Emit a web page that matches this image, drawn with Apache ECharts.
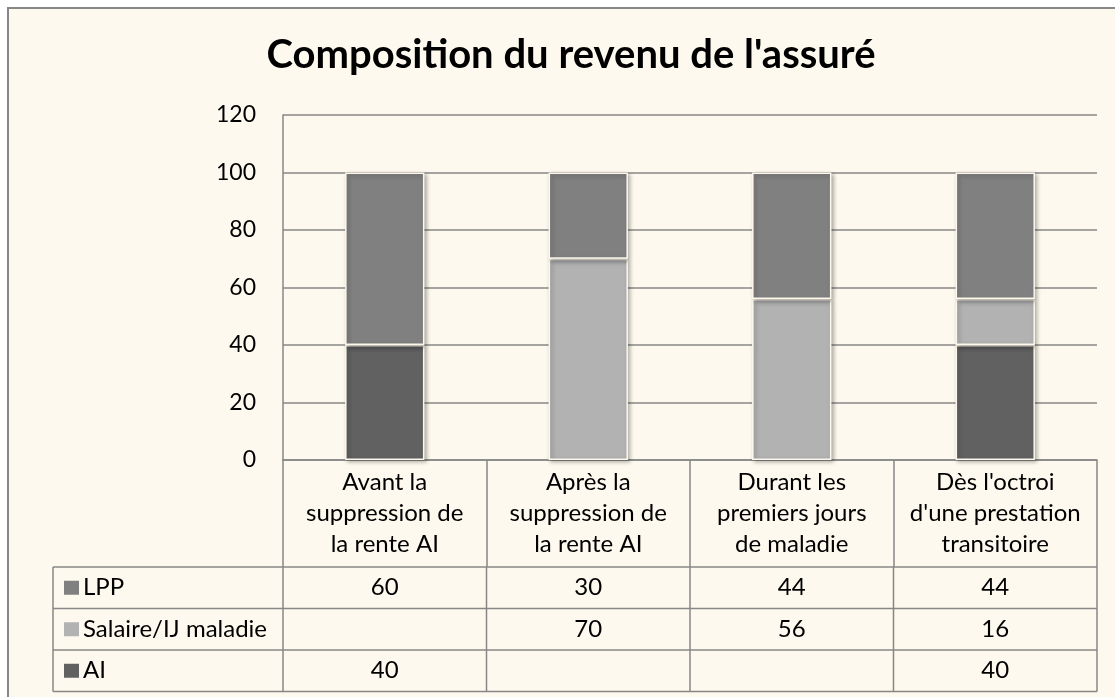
<!DOCTYPE html>
<html>
<head>
<meta charset="utf-8">
<script src="https://cdn.jsdelivr.net/npm/echarts@6/dist/echarts.min.js"></script>
<style>
  html, body { margin: 0; padding: 0; background: #fff; }
  #main { width: 1115px; height: 697px; }
</style>
</head>
<body>
<div id="main"></div>
<script>
// données du graphique
const categories = [
    'Avant la\nsuppression de\nla rente AI',
    'Après la\nsuppression de\nla rente AI',
    'Durant les\npremiers jours\nde maladie',
    "Dès l'octroi\nd'une prestation\ntransitoire"
]
const seriesNames = ['LPP', 'Salaire/IJ maladie', 'AI']
const lpp = [60, 30, 44, 44]
const salaire = [null, 70, 56, 16]
const ai = [40, null, null, 40]
const colors = ['#808080', '#b2b2b2', '#616161']
const yMax = 120
const yStep = 20

const font = 'Lato, "Liberation Sans", sans-serif'
const textSize = 24
const lineColor = '#878787'
const gridLeft = 283, gridRight = 1097, gridTop = 115, gridBottom = 460
const tableLeft = 53, headerBottom = 567, rowH = 41.5

const myChart = echarts.init(document.getElementById('main'))

// tableau de données sous le graphique
const rows = [lpp, salaire, ai]
const colW = (gridRight - gridLeft) / categories.length
const graphic = [
    { type: 'rect', z: -10, shape: { x: 8, y: 8, width: 1200, height: 800 },
      style: { fill: '#fef9ee', stroke: lineColor, lineWidth: 2 } },
    { type: 'text', x: 571, y: 55, style: { text: "Composition du revenu de l'assuré",
      font: 'bold 40px ' + font, fill: '#000', align: 'center', verticalAlign: 'middle' } }
]
for (let r = 0; r <= rows.length; r++) {
    const y = headerBottom + r * rowH
    graphic.push({ type: 'line', shape: { x1: tableLeft, y1: y, x2: gridRight, y2: y },
        style: { stroke: lineColor, lineWidth: 1.5 } })
}
const xs = [tableLeft]
for (let c = 0; c <= categories.length; c++) xs.push(gridLeft + c * colW)
xs.forEach(x => graphic.push({ type: 'line',
    shape: { x1: x, y1: headerBottom, x2: x, y2: headerBottom + rows.length * rowH },
    style: { stroke: lineColor, lineWidth: 1.5 } }))
rows.forEach((vals, r) => {
    const cy = headerBottom + (r + 0.5) * rowH
    graphic.push({ type: 'rect', shape: { x: 64, y: cy - 7, width: 15, height: 14 },
        style: { fill: colors[r] } })
    graphic.push({ type: 'text', x: 83, y: cy, style: { text: seriesNames[r],
        font: textSize + 'px ' + font, fill: '#000', verticalAlign: 'middle' } })
    vals.forEach((v, c) => {
        if (v == null) return
        graphic.push({ type: 'text', x: gridLeft + (c + 0.5) * colW, y: cy,
            style: { text: String(v), font: textSize + 'px ' + font, fill: '#000',
                align: 'center', verticalAlign: 'middle' } })
    })
})

const barStyle = (color) => ({
    color: color,
    borderColor: '#fdf8ec',
    borderWidth: 1.5,
    shadowColor: 'rgba(0,0,0,0.3)',
    shadowBlur: 4,
    shadowOffsetX: 2,
    shadowOffsetY: 2
})

const option = {
    backgroundColor: '#fff',
    animation: false,
    grid: { left: gridLeft, right: 1115 - gridRight, top: gridTop, bottom: 697 - gridBottom },
    xAxis: {
        type: 'category',
        data: categories,
        axisLine: { show: true, lineStyle: { color: lineColor, width: 1.5 } },
        axisTick: { show: true, interval: 0, length: headerBottom - gridBottom,
            lineStyle: { color: lineColor, width: 1.5 } },
        axisLabel: { interval: 0, color: '#000', fontSize: textSize, fontFamily: font,
            lineHeight: 31, margin: 7 }
    },
    yAxis: {
        type: 'value',
        min: 0, max: yMax, interval: yStep,
        axisLine: { show: true, lineStyle: { color: lineColor, width: 1.5 } },
        axisTick: { show: false },
        splitLine: { lineStyle: { color: lineColor, width: 1.5 } },
        axisLabel: { color: '#000', fontSize: 23, fontFamily: font, margin: 27 }
    },
    graphic: graphic,
    series: [
        { name: 'AI', type: 'bar', stack: 'total', barWidth: '39%', data: ai, itemStyle: barStyle(colors[2]) },
        { name: 'Salaire/IJ maladie', type: 'bar', stack: 'total', data: salaire, itemStyle: barStyle(colors[1]) },
        { name: 'LPP', type: 'bar', stack: 'total', data: lpp, itemStyle: barStyle(colors[0]) }
    ]
}

myChart.setOption(option)
</script>
</body>
</html>
